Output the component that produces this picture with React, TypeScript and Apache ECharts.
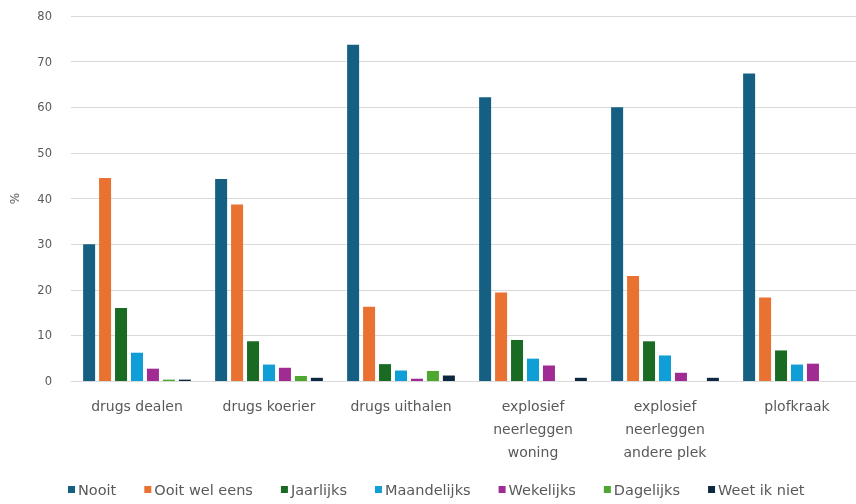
import React, { useEffect, useRef } from "react";
import * as echarts from "echarts";

const categories = [
  "drugs dealen",
  "drugs koerier",
  "drugs uithalen",
  "explosief\nneerleggen\nwoning",
  "explosief\nneerleggen\nandere plek",
  "plofkraak",
];
const seriesNames = ["Nooit", "Ooit wel eens", "Jaarlijks", "Maandelijks", "Wekelijks", "Dagelijks", "Weet ik niet"];
const colors = ["#156082", "#E97132", "#196B24", "#0F9ED5", "#A02B93", "#4EA72E", "#0E2841"];
const nooit = [30.0, 44.3, 73.7, 62.2, 60.0, 67.4];
const ooit = [44.5, 38.7, 16.3, 19.4, 23.0, 18.3];
const jaarlijks = [16.0, 8.7, 3.7, 9.0, 8.7, 6.7];
const maandelijks = [6.2, 3.6, 2.3, 4.9, 5.6, 3.6];
const wekelijks = [2.7, 2.9, 0.5, 3.4, 1.8, 3.8];
const dagelijks = [0.3, 1.1, 2.2, 0, 0, 0];
const weetIkNiet = [0.3, 0.7, 1.2, 0.7, 0.7, 0];
const seriesValues = [nooit, ooit, jaarlijks, maandelijks, wekelijks, dagelijks, weetIkNiet];
const yTicks = { min: 0, max: 80, interval: 10 };

export default function App() {
  const ref = useRef<HTMLDivElement>(null);
  useEffect(() => {
    const chart = echarts.init(ref.current!, null, { renderer: "svg" });
    const font = "DejaVu Sans";
    chart.setOption({
      animation: false,
      textStyle: { fontFamily: font },
      grid: { left: 71, width: 792, top: 16, bottom: 123, containLabel: false, outerBoundsMode: "none" },
      legend: {
        top: 477,
        left: 63,
        itemWidth: 7,
        itemHeight: 7,
        itemGap: 28,
        icon: "rect",
        textStyle: { color: "#595959", fontSize: 14.5, fontFamily: font, padding: [0, 0, 0, -2] },
        data: seriesNames,
      },
      xAxis: {
        type: "category",
        data: categories,
        axisTick: { show: false },
        axisLine: { lineStyle: { color: "#d9d9d9" } },
        axisLabel: { color: "#595959", fontSize: 14, lineHeight: 23, margin: 13, interval: 0 },
      },
      yAxis: {
        type: "value",
        min: yTicks.min,
        max: yTicks.max,
        interval: yTicks.interval,
        name: "%",
        nameLocation: "middle",
        nameGap: 50,
        nameRotate: 90,
        nameTextStyle: { color: "#595959", fontSize: 12 },
        axisLabel: { color: "#595959", fontSize: 11.5, margin: 19 },
        splitLine: { lineStyle: { color: "#d9d9d9" } },
        axisLine: { show: false },
        axisTick: { show: false },
      },
      series: seriesNames.map((name, i) => ({
        name,
        type: "bar",
        data: seriesValues[i],
        barWidth: 12,
        barGap: "33%",
        itemStyle: { color: colors[i] },
      })),
    });
    return () => chart.dispose();
  }, []);
  return <div ref={ref} style={{ position: "fixed", left: 0, top: 0, width: 856, height: 504 }} />;
}
